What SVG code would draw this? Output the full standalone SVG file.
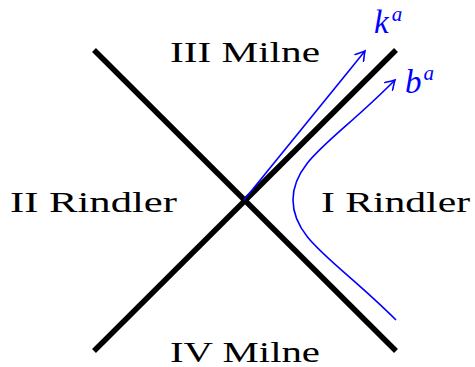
<svg xmlns="http://www.w3.org/2000/svg" width="475" height="367" viewBox="0 0 475 367">
<style>
.axis{stroke:#000;stroke-width:5.5;fill:none}
.blue{stroke:#0000ff;stroke-width:1.6;fill:none}
.lbl{font-family:"Liberation Serif","DejaVu Serif",serif;font-size:29px;fill:#000}
.math{font-family:"Liberation Serif","DejaVu Serif",serif;font-style:italic;fill:#0000ff}
</style>
<defs>
<marker id="arr" viewBox="-10 -6 12 12" markerWidth="12" markerHeight="12" refX="0" refY="0" orient="auto" markerUnits="userSpaceOnUse">
<path d="M-9,-5.5 Q-3,-1.5 0,0 Q-3,1.5 -9,5.5" fill="none" stroke="#0000ff" stroke-width="1.6" stroke-linecap="round"/>
</marker>
</defs>
<rect width="475" height="367" fill="#fff"/>
<g id="connectors">
<line class="axis" x1="94" y1="50" x2="396" y2="351"/>
<line class="axis" x1="94" y1="351" x2="396" y2="50"/>
<line class="blue" x1="244" y1="200" x2="365" y2="51" marker-end="url(#arr)"/>
<path class="blue" d="M396,320 C336,260 293,240 293,200 C293,160 336,140 395,80" marker-end="url(#arr)"/>
</g>
<g id="region-III"><text class="lbl" x="245" y="62" text-anchor="middle" textLength="150" lengthAdjust="spacingAndGlyphs">III Milne</text></g>
<g id="region-IV"><text class="lbl" x="245" y="362" text-anchor="middle" textLength="150" lengthAdjust="spacingAndGlyphs">IV Milne</text></g>
<g id="region-II"><text class="lbl" x="10" y="212" textLength="167" lengthAdjust="spacingAndGlyphs">II Rindler</text></g>
<g id="region-I"><text class="lbl" x="321" y="212" textLength="149" lengthAdjust="spacingAndGlyphs">I Rindler</text></g>
<g id="label-k"><text class="math" x="374" y="33" font-size="33">k<tspan font-size="21" dx="3" dy="-12">a</tspan></text></g>
<g id="label-b"><text class="math" x="405" y="93" font-size="33">b<tspan font-size="21" dx="2" dy="-13">a</tspan></text></g>
</svg>
